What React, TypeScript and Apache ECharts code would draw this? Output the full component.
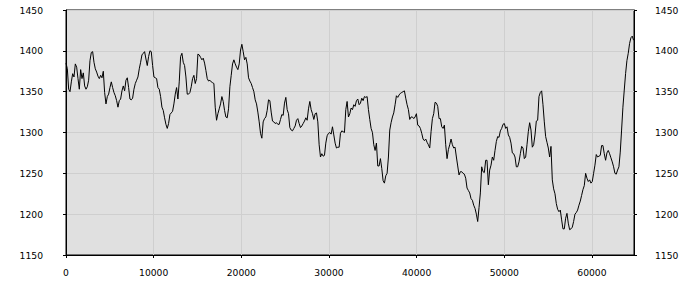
import React, { useEffect, useRef } from "react";
import * as echarts from "echarts";

const X_STEP = 152;
const X_MIN = 0;
const X_MAX = 64800;
const X_TICKS = [0, 10000, 20000, 30000, 40000, 50000, 60000];
const Y_MIN = 1150;
const Y_MAX = 1450;
const Y_INTERVAL = 50;

const seg1 = [
  1385, 1378, 1353, 1350, 1362, 1372, 1368, 1384, 1380, 1366,
  1353, 1377, 1366, 1373, 1357, 1353, 1356, 1364, 1388,
  1398, 1399, 1386, 1378, 1374, 1369, 1366, 1370, 1367, 1375,
  1349, 1335, 1344, 1347, 1355, 1362, 1355, 1349, 1345, 1339,
  1331, 1339, 1341, 1351, 1357, 1351, 1364, 1367, 1355, 1341,
  1340, 1342, 1353, 1360, 1364, 1368, 1378, 1386, 1395, 1397,
  1399, 1390, 1382, 1393, 1400, 1399, 1382, 1368, 1367, 1366,
  1355, 1353, 1344, 1331, 1327, 1318, 1310, 1305, 1311, 1322,
  1324, 1326, 1335, 1347, 1355, 1341, 1362, 1393, 1397, 1386,
  1382, 1368, 1347, 1347, 1349,
];

const seg2 = [
  1356, 1366, 1370, 1360, 1366, 1396, 1395, 1392, 1389, 1391,
  1385, 1376, 1366, 1363, 1364, 1362, 1361, 1360, 1331, 1315,
  1323, 1329, 1335, 1344, 1338, 1327, 1319, 1318, 1329, 1356,
  1370, 1384, 1389, 1384, 1380, 1377, 1384, 1401, 1408, 1399,
  1389, 1392, 1384, 1367, 1363, 1360, 1355, 1350, 1340, 1335,
  1325, 1313, 1299, 1293, 1313, 1317, 1319, 1327, 1340, 1339,
  1325, 1314, 1313, 1311, 1312, 1310, 1310, 1316, 1322, 1321,
  1336, 1343, 1328, 1323, 1306, 1303, 1302, 1305, 1308, 1315,
  1317, 1311, 1306, 1308, 1311, 1314, 1318, 1315, 1329, 1338,
];

const seg3 = [
  1328, 1323, 1316, 1323, 1324, 1313, 1285, 1270, 1274, 1271,
  1272, 1287, 1296, 1299, 1300, 1298, 1307, 1297, 1287, 1281,
  1282, 1282, 1299, 1302, 1301, 1300, 1328, 1338, 1319, 1323,
  1330, 1328, 1334, 1332, 1339, 1341, 1334, 1336, 1342, 1339,
  1344, 1343, 1344, 1328, 1316, 1305, 1300, 1285, 1278, 1287,
  1259, 1259, 1268, 1256, 1241, 1238, 1247, 1250, 1270, 1303,
  1312, 1319, 1324, 1334, 1345, 1343, 1346, 1348, 1349, 1350,
  1351, 1342, 1334, 1328, 1316, 1319, 1319, 1317, 1319, 1323,
  1309, 1308, 1305, 1299, 1292, 1290, 1292, 1288, 1285, 1281,
];

const seg4 = [
  1301, 1317, 1323, 1337, 1336, 1332, 1317, 1317, 1307, 1305,
  1309, 1285, 1268, 1279, 1285, 1292, 1285, 1281, 1282, 1270,
  1259, 1248, 1252, 1252, 1250, 1249, 1244, 1232, 1229, 1226,
  1219, 1217, 1211, 1207, 1200, 1191, 1208, 1226, 1258, 1252,
  1251, 1266, 1266, 1236, 1254, 1260, 1270, 1266, 1278, 1289,
  1295, 1294, 1302, 1305, 1310, 1311, 1305, 1307, 1297, 1294,
  1287, 1275, 1274, 1270, 1258, 1258, 1264, 1274, 1283, 1281,
  1268, 1270, 1285, 1301, 1312, 1303, 1282, 1285, 1297, 1314,
  1315, 1344, 1349, 1351, 1334, 1313, 1295, 1288, 1281, 1270,
];

const seg5 = [
  1283, 1242, 1231, 1225, 1213, 1206, 1203, 1205, 1193, 1182,
  1182, 1195, 1201, 1189, 1181, 1182, 1184, 1191, 1200, 1202,
  1205, 1211, 1216, 1223, 1230, 1235, 1250, 1244, 1240, 1242,
  1238, 1240, 1250, 1260, 1273, 1270, 1271, 1272, 1284, 1284,
  1274, 1266, 1275, 1278, 1274, 1269, 1264, 1258, 1250, 1249,
  1254, 1258, 1276, 1303, 1331, 1352, 1372, 1388, 1397, 1409,
  1416, 1418, 1413,
];

const values = [...seg1, ...seg2, ...seg3, ...seg4, ...seg5];

export default function App() {
  const ref = useRef<HTMLDivElement>(null);

  useEffect(() => {
    if (!ref.current) return;
    const chart = echarts.init(ref.current, null, { renderer: "svg" });
    const font = {
      fontFamily: "DejaVu Sans",
      fontSize: 9.2,
      color: "#000",
      formatter: (v: number) => String(v),
    };
    const axisLine = { show: true, lineStyle: { color: "#000", width: 1 } };
    const tick = { show: true, length: 3, lineStyle: { color: "#000", width: 1 } };
    const split = { show: true, lineStyle: { color: "#cfcfcf", width: 1 } };

    chart.setOption({
      animation: false,
      grid: {
        left: 66,
        right: 66,
        top: 10,
        bottom: 45,
        show: true,
        backgroundColor: "#e0e0e0",
        borderColor: "#000",
        borderWidth: 1,
      },
      xAxis: {
        type: "value",
        min: X_MIN,
        max: X_MAX,
        interval: 10000,
        axisLine,
        axisTick: { ...tick, customValues: X_TICKS },
        axisLabel: { ...font, margin: 13, customValues: X_TICKS },
        splitLine: split,
      },
      yAxis: [
        {
          type: "value",
          position: "left",
          min: Y_MIN,
          max: Y_MAX,
          interval: Y_INTERVAL,
          axisLine,
          axisTick: tick,
          axisLabel: { ...font, margin: 23 },
          splitLine: split,
        },
        {
          type: "value",
          position: "right",
          min: Y_MIN,
          max: Y_MAX,
          interval: Y_INTERVAL,
          axisLine,
          axisTick: tick,
          axisLabel: { ...font, margin: 21 },
          splitLine: { show: false },
        },
      ],
      series: [
        {
          type: "line",
          data: values.map((v, i) => [i * X_STEP, v]),
          showSymbol: false,
          symbol: "none",
          silent: true,
          lineStyle: { color: "#000", width: 1 },
        },
      ],
    });

    return () => chart.dispose();
  }, []);

  return (
    <div
      ref={ref}
      style={{ position: "absolute", left: 0, top: 0, width: 700, height: 300 }}
    />
  );
}
